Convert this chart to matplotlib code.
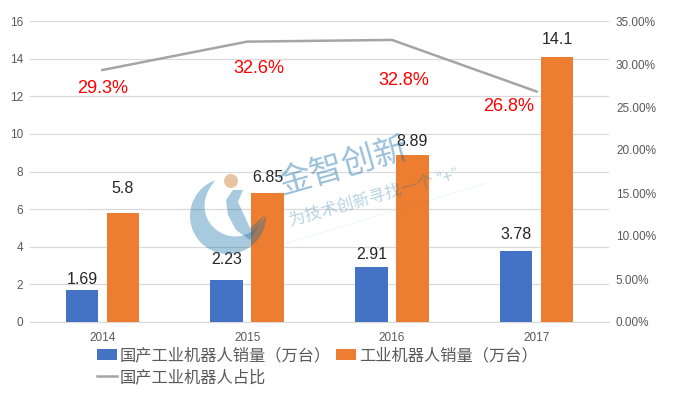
import numpy as np
import matplotlib
matplotlib.use('Agg')
import matplotlib.pyplot as plt
from matplotlib.patches import Circle

plt.rcParams['font.family'] = ['Liberation Sans', 'Noto Sans CJK SC', 'DejaVu Sans']

anos = ['2014', '2015', '2016', '2017']
domestico = [1.69, 2.23, 2.91, 3.78]
total = [5.8, 6.85, 8.89, 14.1]
percentual = [0.293, 0.326, 0.328, 0.268]
rotulos_dom = ['1.69', '2.23', '2.91', '3.78']
rotulos_tot = ['5.8', '6.85', '8.89', '14.1']
rotulos_pct = ['29.3%', '32.6%', '32.8%', '26.8%']
ticks_esq = [0, 2, 4, 6, 8, 10, 12, 14, 16]
ticks_dir = [0, 0.05, 0.10, 0.15, 0.20, 0.25, 0.30, 0.35]

# deslocamentos dos rotulos, em pixels
offset_dom = [3, 13, 5, 9]
offset_tot = [17, 8, 6, 10]
offset_pct = [(0, -18), (12, -27), (12, -41), (-28, -15)]

L, T = 685, 394
fig = plt.figure(figsize=(L / 100, T / 100), dpi=100)
ax = fig.add_axes([30 / L, 1 - 322 / T, (609 - 30) / L, (322 - 21) / T])
ax2 = ax.twinx()
ax.set_zorder(2)
ax.patch.set_visible(False)
ax2.set_zorder(3)

x = np.arange(4)
larg = 32.5 / 145
desl = 20.5 / 145
barras_dom = ax.bar(x - desl, domestico, larg, color='#4472C4', label='国产工业机器人销量（万台）', zorder=3)
barras_tot = ax.bar(x + desl, total, larg, color='#ED7D31', label='工业机器人销量（万台）', zorder=3)
linha, = ax2.plot(x, percentual, color='#A5A5A5', lw=1.8, label='国产工业机器人占比')

ax.set_xlim(-0.5, 3.5)
ax.set_ylim(0, 16)
ax2.set_ylim(0, 0.35)
ax.set_xticks(x, anos)
ax.set_yticks(ticks_esq)
ax2.set_yticks(ticks_dir, [f'{v * 100:.2f}%' for v in ticks_dir])
ax.grid(axis='y', color='#D9D9D9', lw=0.9, zorder=0)
ax.set_axisbelow(True)
ax.tick_params(length=0, labelsize=8.5, labelcolor='#595959', pad=5)
ax.tick_params(axis='x', pad=7)
ax2.tick_params(length=0, labelsize=8.5, labelcolor='#595959', pad=5)
for a in (ax, ax2):
    for s in a.spines.values():
        s.set_visible(False)
ax.spines['bottom'].set_visible(True)
ax.spines['bottom'].set_color('#D9D9D9')

for i in range(4):
    ax.annotate(rotulos_dom[i], (x[i] - desl, domestico[i]), xytext=(0, offset_dom[i]), textcoords='offset pixels',
                ha='center', va='bottom', fontsize=11.5, color='#262626', zorder=5)
    ax.annotate(rotulos_tot[i], (x[i] + desl, total[i]), xytext=(0, offset_tot[i]), textcoords='offset pixels',
                ha='center', va='bottom', fontsize=11.5, color='#262626', zorder=5)
    ax2.annotate(rotulos_pct[i], (x[i], percentual[i]), xytext=offset_pct[i], textcoords='offset pixels',
                 ha='center', va='center', fontsize=13, color='#FF0000', zorder=6)

# marca d'agua, desenhada em pixels
over = fig.add_axes([0, 0, 1, 1], zorder=4)
over.set_xlim(0, L)
over.set_ylim(T, 0)
over.axis('off')
azul = '#106CA6'
ang = np.radians(np.linspace(110, 360, 60))
u = np.linspace(0, 1, 60)
r_in = 38 - 20 * np.sin(np.pi * u) ** 0.8
xs = np.r_[228 + 38 * np.cos(ang), (228 + r_in * np.cos(ang))[::-1]]
ys = np.r_[216 - 38 * np.sin(ang), (216 - r_in * np.sin(ang))[::-1]]
over.fill(xs, ys, color=azul, alpha=0.36, lw=0)
over.fill([233, 226, 228, 236, 250, 265, 250, 245, 238, 243],
          [190, 200, 215, 230, 240, 215, 228, 217, 202, 190], color=azul, alpha=0.36, lw=0)
over.add_patch(Circle((231, 181), 7, color='#E3B68C', alpha=0.8, lw=0))
over.text(343, 167, '金智创新', fontsize=24, color=azul, alpha=0.42, rotation=16,
          ha='center', va='center')
over.text(374, 198, '为技术创新寻找一个 “+”', fontsize=12, color=azul, alpha=0.3, rotation=15.7,
          ha='center', va='center')
over.plot([287, 487], [243, 183], color=azul, alpha=0.05, lw=1)

fig.legend([barras_dom, linha, barras_tot], [barras_dom.get_label(), linha.get_label(), barras_tot.get_label()],
           loc='lower left', bbox_to_anchor=(97 / L, 9 / T), ncol=2, frameon=False, fontsize=11.7,
           labelcolor='#595959', handlelength=1.25, columnspacing=0.3, handletextpad=0.15,
           labelspacing=0.35, borderpad=0, borderaxespad=0)

fig.savefig('out.png', dpi=100)
